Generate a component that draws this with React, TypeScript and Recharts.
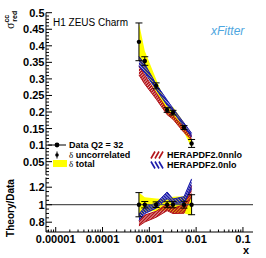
import React from "react";
import {
  ComposedChart,
  Area,
  Scatter,
  ErrorBar,
  XAxis,
  YAxis,
  ReferenceLine,
} from "recharts";

// measured points, Q2 = 32
const xVals = [0.0006, 0.0008, 0.0014, 0.0024, 0.0032, 0.0055, 0.008];
const sigmaRed = [0.412, 0.354, 0.279, 0.206, 0.198, 0.153, 0.105];
const errUncor = [0.057, 0.013, 0.009, 0.007, 0.007, 0.006, 0.012];
const errTotal = [0.058, 0.03, 0.02, 0.013, 0.018, 0.015, 0.013];

// theory bands
const nloLow = [0.338, 0.318, 0.268, 0.22, 0.201, 0.156, 0.124];
const nloHigh = [0.368, 0.345, 0.284, 0.236, 0.211, 0.167, 0.136];
const nnloLow = [0.312, 0.284, 0.239, 0.192, 0.178, 0.138, 0.116];
const nnloHigh = [0.34, 0.312, 0.258, 0.208, 0.19, 0.153, 0.128];

// axes
const xDecades = [0.00001, 0.0001, 0.001, 0.01, 0.1];
const xDecadeLabels = ["0.00001", "0.0001", "0.001", "0.01", "0.1"];
const minorMult = [1, 2, 3, 4, 5, 6, 7, 8, 9];
const X_DOMAIN: [number, number] = [6.2e-6, 0.164];
const yTopLabels = [0.05, 0.1, 0.15, 0.2, 0.25, 0.3, 0.35, 0.4, 0.45, 0.5];
const yRatioLabels = [0.8, 1, 1.2];
const TOP_DOMAIN: [number, number] = [0.0097, 0.5];
const RATIO_DOMAIN: [number, number] = [0.688, 1.311];

const font = "'Liberation Sans', Arial, Helvetica, sans-serif";
const RED = "#b3151b";
const BLUE = "#1b1bab";

const xTicks: number[] = [];
[0.000001, ...xDecades].forEach((d) =>
  minorMult.forEach((m) => {
    const v = d * m;
    if (v >= X_DOMAIN[0] && v <= X_DOMAIN[1]) xTicks.push(v);
  })
);

const yTopTicks: number[] = [];
for (let i = 1; i <= 50; i++) yTopTicks.push(Number((i * 0.01).toFixed(2)));
const yRatioTicks: number[] = [];
for (let i = 0; i <= 12; i++) yRatioTicks.push(Number((0.7 + i * 0.05).toFixed(2)));

const topRows = xVals.map((x, i) => ({
  x,
  y: sigmaRed[i],
  eu: errUncor[i],
  tot: [sigmaRed[i] - errTotal[i], sigmaRed[i] + errTotal[i]],
  nlo: [nloLow[i], nloHigh[i]],
  nnlo: [nnloLow[i], nnloHigh[i]],
}));

const ratioRows = xVals.map((x, i) => ({
  x,
  y: 1,
  eu: errUncor[i] / sigmaRed[i],
  tot: [1 - errTotal[i] / sigmaRed[i], 1 + errTotal[i] / sigmaRed[i]],
  nlo: [nloLow[i] / sigmaRed[i], nloHigh[i] / sigmaRed[i]],
  nnlo: [nnloLow[i] / sigmaRed[i], nnloHigh[i] / sigmaRed[i]],
}));

const makeXTick = (showLabel: boolean) => (props: any) => {
  const { x, y, payload } = props;
  const v = payload.value;
  const idx = xDecades.findIndex((d) => Math.abs(v / d - 1) < 1e-6);
  const major = idx >= 0;
  return (
    <g>
      <line x1={x} x2={x} y1={y} y2={y - (major ? 5 : 2.5)} stroke="#000" />
      {showLabel && major && (
        <text x={x} y={y + 10.5} textAnchor="middle" fontFamily={font} fontWeight="bold" fontSize={11} fill="#000">
          {xDecadeLabels[idx]}
        </text>
      )}
    </g>
  );
};

const makeYTick = (labels: number[]) => (props: any) => {
  const { x, y, payload } = props;
  const v = payload.value;
  const major = labels.some((l) => Math.abs(l - v) < 1e-6);
  return (
    <g>
      <line x1={x} x2={x + (major ? 6 : 3)} y1={y} y2={y} stroke="#000" />
      {major && (
        <text x={x - 1.5} y={y} dy="0.36em" textAnchor="end" fontFamily={font} fontWeight="bold" fontSize={11} fill="#000">
          {String(Number(v.toFixed(2)))}
        </text>
      )}
    </g>
  );
};

const dot = (props: any) => <circle cx={props.cx} cy={props.cy} r={2.2} fill="#000" />;

const Panel = ({ rows, domain, yTicks, yLabels, height, margin, xHeight, showX, refLine }: any) => (
  <ComposedChart width={266} height={height} data={rows} margin={margin}>
    <XAxis xAxisId="b" dataKey="x" type="number" scale="log" domain={X_DOMAIN} allowDataOverflow
      ticks={xTicks} interval={0} tickSize={0} tickMargin={0} tickLine={false}
      tick={makeXTick(showX)} height={xHeight} axisLine={{ stroke: "#000" }} />
    <XAxis xAxisId="t" orientation="top" dataKey="x" type="number" scale="log" domain={X_DOMAIN}
      allowDataOverflow tick={false} tickLine={false} height={0} axisLine={{ stroke: "#000" }} />
    <YAxis yAxisId="l" type="number" domain={domain} allowDataOverflow ticks={yTicks} interval={0}
      tickSize={0} tickMargin={0} tickLine={false} tick={makeYTick(yLabels)} width={46}
      axisLine={{ stroke: "#000" }} />
    <YAxis yAxisId="r" orientation="right" type="number" domain={domain} allowDataOverflow
      tick={false} tickLine={false} width={0} axisLine={{ stroke: "#000" }} />
    <Area xAxisId="b" yAxisId="l" type="linear" dataKey="tot" fill="#ffff00" fillOpacity={1}
      stroke="none" isAnimationActive={false} dot={false} activeDot={false} />
    <Area xAxisId="b" yAxisId="l" type="linear" dataKey="nnlo" fill="url(#hatchRed)" fillOpacity={1}
      stroke={RED} strokeWidth={1} isAnimationActive={false} dot={false} activeDot={false} />
    <Area xAxisId="b" yAxisId="l" type="linear" dataKey="nlo" fill="url(#hatchBlue)" fillOpacity={1}
      stroke={BLUE} strokeWidth={1} isAnimationActive={false} dot={false} activeDot={false} />
    {refLine && (
      <ReferenceLine xAxisId="b" yAxisId="l" y={1} stroke="#555" strokeWidth={1.3} />
    )}
    <Scatter xAxisId="b" yAxisId="l" data={rows} dataKey="y" shape={dot} isAnimationActive={false}>
      <ErrorBar dataKey="eu" direction="y" width={3.5} stroke="#000" strokeWidth={1} />
    </Scatter>
  </ComposedChart>
);

export default function App() {
  const txt = { fontFamily: font, fontWeight: "bold" as const, fill: "#000" };
  return (
    <div style={{ position: "absolute", left: 0, top: 0, width: 266, height: 258, background: "#fff", overflow: "hidden" }}>
      <div style={{ position: "absolute", left: 0, top: 0 }}>
        <Panel rows={topRows} domain={TOP_DOMAIN} yTicks={yTopTicks} yLabels={yTopLabels} height={180}
          margin={{ top: 12.7, right: 13, bottom: 5, left: 0 }} xHeight={0} showX={false} refLine={false} />
      </div>
      <div style={{ position: "absolute", left: 0, top: 170 }}>
        <Panel rows={ratioRows} domain={RATIO_DOMAIN} yTicks={yRatioTicks} yLabels={yRatioLabels} height={90}
          margin={{ top: 7.5, right: 13, bottom: 0, left: 0 }} xHeight={28} showX={true} refLine={true} />
      </div>
      <svg width={266} height={258} style={{ position: "absolute", left: 0, top: 0, pointerEvents: "none" }}>
        <defs>
          <pattern id="hatchRed" patternUnits="userSpaceOnUse" width="2.2" height="2.2" patternTransform="rotate(45)">
            <rect x="0" y="0" width="1.7" height="2.2" fill={RED} />
          </pattern>
          <pattern id="hatchBlue" patternUnits="userSpaceOnUse" width="2.2" height="2.2" patternTransform="rotate(-45)">
            <rect x="0" y="0" width="1.7" height="2.2" fill={BLUE} />
          </pattern>
        </defs>
        <text x={53} y={26} fontFamily={font} fontSize={10} fill="#000">H1 ZEUS Charm</text>
        <text x={211} y={35} fontFamily={font} fontSize={12} fontStyle="italic" fill="#4da6e0">xFitter</text>
        <g transform="translate(14,29) rotate(-90)">
          <text fontFamily="'Liberation Serif', serif" fontSize={12} fill="#000">
            σ
            <tspan fontFamily={font} fontSize={7} fontWeight="bold" dy={-5}>cc</tspan>
            <tspan fontFamily={font} fontSize={7} fontWeight="bold" dx={-7} dy={8}>red</tspan>
          </text>
        </g>
        <text transform="translate(14,208) rotate(-90)" textAnchor="middle" fontSize={10} {...txt}>Theory/Data</text>
        <text x={246} y={254} textAnchor="middle" fontSize={11} {...txt}>x</text>

        {/* legend, left */}
        <line x1={48} x2={66} y1={145} y2={145} stroke="#000" />
        <circle cx={57} cy={145} r={2.4} fill="#000" />
        <text x={69} y={148.3} fontSize={9} {...txt}>Data Q2 = 32</text>
        <line x1={57} x2={57} y1={151.5} y2={158.5} stroke="#000" />
        <circle cx={57} cy={155} r={1.8} fill="#000" />
        <text x={69} y={158.3} fontSize={9} {...txt}>
          <tspan fontFamily="'Liberation Serif', serif" fontWeight="normal">δ</tspan> uncorrelated
        </text>
        <rect x={53} y={160} width={14} height={7} fill="#ffff00" />
        <text x={69} y={166.8} fontSize={9} {...txt}>
          <tspan fontFamily="'Liberation Serif', serif" fontWeight="normal">δ</tspan> total
        </text>

        {/* legend, right */}
        {[0, 1, 2].map((k) => (
          <line key={"r" + k} x1={151 + 4 * k} y1={158.5} x2={155 + 4 * k} y2={151.5} stroke={RED} strokeWidth={1.6} />
        ))}
        <text x={167} y={158.3} fontSize={9} {...txt}>HERAPDF2.0nnlo</text>
        {[0, 1, 2].map((k) => (
          <line key={"b" + k} x1={151 + 4 * k} y1={161.5} x2={155 + 4 * k} y2={168.5} stroke={BLUE} strokeWidth={1.6} />
        ))}
        <text x={167} y={168.3} fontSize={9} {...txt}>HERAPDF2.0nlo</text>
      </svg>
    </div>
  );
}
